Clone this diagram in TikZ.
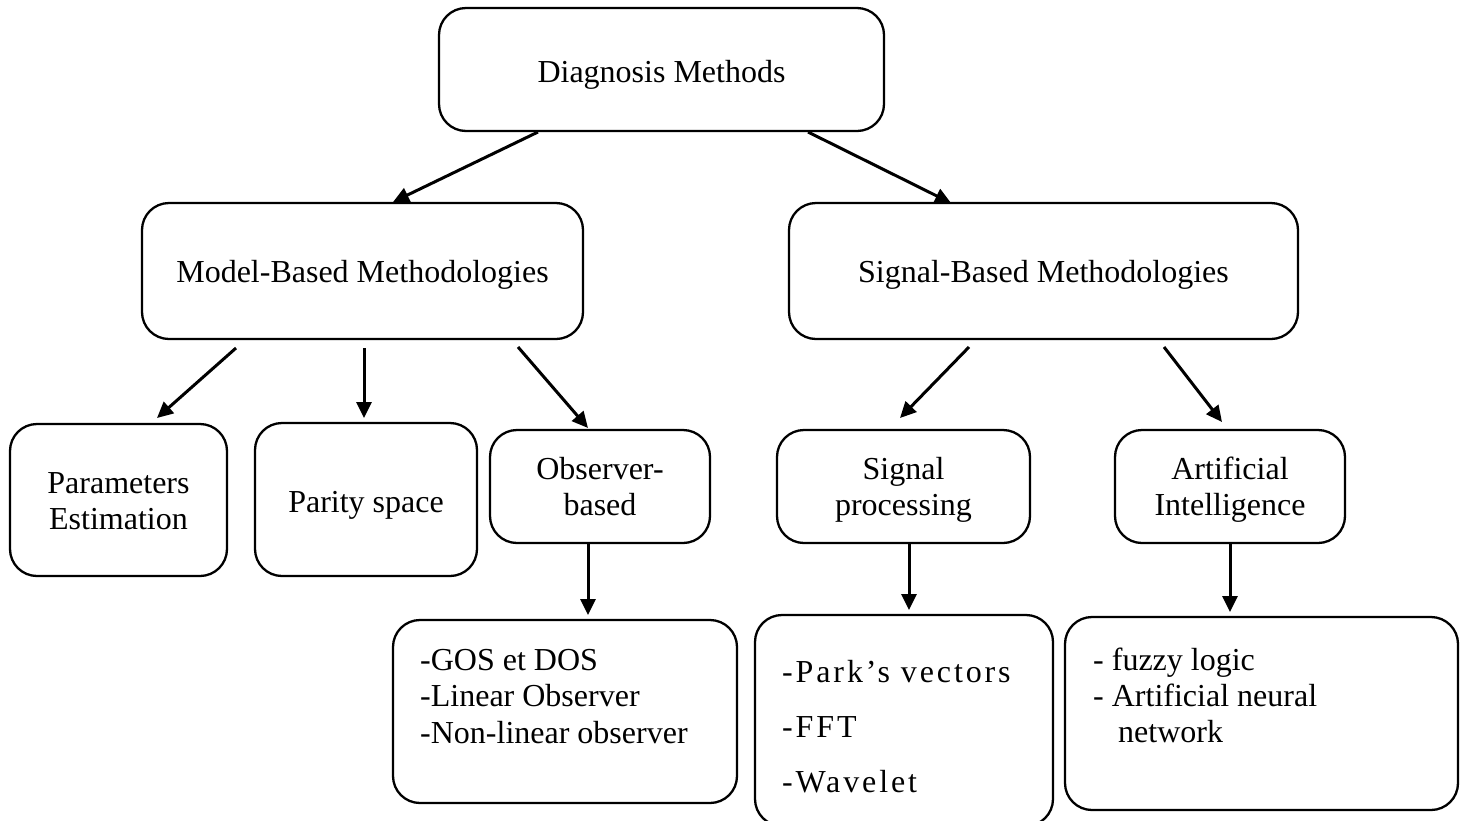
\documentclass[tikz,border=0pt]{standalone}
\usepackage{fontspec}
\setmainfont{Liberation Serif}
\usetikzlibrary{arrows.meta}

% rounded box from its top-left and bottom-right corners: name, x1, y1, x2, y2
\newcommand\roundbox[5]{%
  \node[rbox, minimum width={(#4-#2)*1pt}, minimum height={(#5-#3)*1pt}]
    (#1) at ({(#2+#4)/2},{(#3+#5)/2}) {};}

\begin{document}
\begin{tikzpicture}[x=1pt,y=-1pt,
  rbox/.style={draw, line width=2.3pt, rounded corners=27pt,
               inner sep=0pt, outer sep=0pt},
  lbl/.style={font=\fontsize{32}{36}\selectfont, inner sep=0pt, anchor=base},
  clbl/.style={lbl, align=center},
  llbl/.style={lbl, align=left, anchor=base west},
  arr/.style={line width=3pt, -{Triangle[length=16pt,width=15pt]}}]

\fill[white] (0,0) rectangle (1463,820);
\useasboundingbox (0,0) rectangle (1463,820);

% boxes
\roundbox{diag}{439}{8}{884}{131}
\roundbox{model}{142}{203}{583}{339}
\roundbox{sig}{789}{203}{1298}{339}
\roundbox{param}{10}{424}{227}{576}
\roundbox{parity}{255}{423}{477}{576}
\roundbox{obs}{490}{430}{710}{543}
\roundbox{sp}{777}{430}{1030}{543}
\roundbox{ai}{1115}{430}{1345}{543}
\roundbox{gos}{393}{620}{737}{803}
\roundbox{park}{755}{615}{1053}{826}
\roundbox{fuzzy}{1065}{617}{1458}{810}

% labels (multi-line labels are anchored on their last baseline)
\node[lbl] (diagT) at (661.5,82) {Diagnosis Methods};
\node[lbl] (modelT) at (362.5,282) {Model-Based Methodologies};
\node[lbl] (sigT) at (1043.5,282) {Signal-Based Methodologies};
\node[clbl] (paramT) at (118.5,529) {Parameters\\Estimation};
\node[lbl] (parityT) at (366,512) {Parity space};
\node[clbl] (obsT) at (600,515) {Observer-\\based};
\node[clbl] (spT) at (903.5,515) {Signal\\processing};
\node[clbl] (aiT) at (1230,515) {Artificial\\Intelligence};
\node[llbl, font=\fontsize{32}{36.5}\selectfont] (gosT) at (420,743)
  {-GOS et DOS\\-Linear Observer\\-Non-linear observer};
\node[llbl, font=\fontsize{32}{55}\selectfont\addfontfeature{LetterSpace=9}]
  (parkT) at (782,792) {-Park’s vectors\\-FFT\\-Wavelet};
\node[llbl] (fuzzyT) at (1093,742)
  {- fuzzy logic\\- Artificial neural\\\hspace*{25pt}network};

% connectors
\draw[arr] ([xshift=99pt,yshift=-1pt]diag.south west) -- ([xshift=251pt,yshift=1pt]model.north west);
\draw[arr] ([xshift=369pt,yshift=-1pt]diag.south west) -- ([xshift=162pt]sig.north west);
\draw[arr] ([xshift=94pt,yshift=-9pt]model.south west) -- ([xshift=147pt,yshift=6pt]param.north west);
\draw[arr] ([xshift=222pt,yshift=-9pt]model.south west) -- ([xshift=109pt,yshift=5pt]parity.north west);
\draw[arr] ([xshift=376pt,yshift=-8pt]model.south west) -- ([xshift=98pt,yshift=2pt]obs.north west);
\draw[arr] ([xshift=180pt,yshift=-8pt]sig.south west) -- ([xshift=123pt,yshift=12pt]sp.north west);
\draw[arr] ([xshift=375pt,yshift=-8pt]sig.south west) -- ([xshift=107pt,yshift=8pt]ai.north west);
\draw[arr] ([xshift=98pt]obs.south west) -- ([xshift=195pt,yshift=5pt]gos.north west);
\draw[arr] ([xshift=132pt]sp.south west) -- ([xshift=154pt,yshift=5pt]park.north west);
\draw[arr] ([xshift=115pt]ai.south west) -- ([xshift=165pt,yshift=5pt]fuzzy.north west);
\end{tikzpicture}
\end{document}
